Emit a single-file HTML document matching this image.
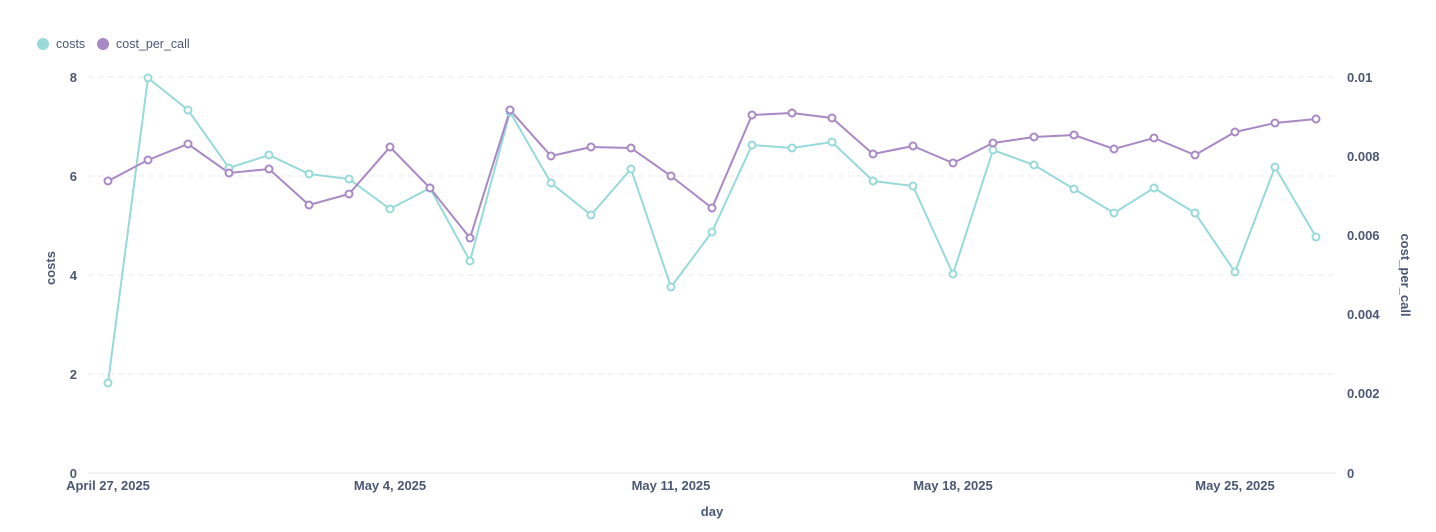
<!DOCTYPE html>
<html><head><meta charset="utf-8"><style>
html,body{margin:0;padding:0;background:#fff;}
svg{display:block;font-family:"Liberation Sans",sans-serif;}
</style></head><body>
<svg width="1436" height="532" viewBox="0 0 1436 532">
<g stroke="#e8e9ec" stroke-dasharray="6,4" stroke-width="1">
<line x1="88" x2="1336" y1="77" y2="77"/>
<line x1="88" x2="1336" y1="176" y2="176"/>
<line x1="88" x2="1336" y1="275" y2="275"/>
<line x1="88" x2="1336" y1="374" y2="374"/>
</g>
<line x1="88" x2="1336" y1="473" y2="473" stroke="#e3e5e8"/>
<g fill="#4c5773" font-size="13" font-weight="bold">
<g text-anchor="end">
<text x="77" y="82">8</text><text x="77" y="181">6</text><text x="77" y="280">4</text><text x="77" y="379">2</text><text x="77" y="478">0</text>
</g>
<g text-anchor="start">
<text x="1347" y="82">0.01</text><text x="1347" y="161">0.008</text><text x="1347" y="240">0.006</text><text x="1347" y="319">0.004</text><text x="1347" y="398">0.002</text><text x="1347" y="478">0</text>
</g>
<g text-anchor="middle">
<text x="108" y="490">April 27, 2025</text><text x="390" y="490">May 4, 2025</text><text x="671" y="490">May 11, 2025</text><text x="953" y="490">May 18, 2025</text><text x="1235" y="490">May 25, 2025</text>
<text x="712" y="516">day</text>
</g>
<text transform="translate(55,268) rotate(-90)" text-anchor="middle">costs</text>
<text transform="translate(1401,275) rotate(90)" text-anchor="middle">cost_per_call</text>
<text x="56" y="48" font-weight="normal" font-size="12.5">costs</text>
<text x="116" y="48" font-weight="normal" font-size="12.5">cost_per_call</text>
</g>
<circle cx="43" cy="44" r="6" fill="#98d9d9"/>
<circle cx="103" cy="44" r="6" fill="#a989c5"/>
<polyline fill="none" stroke="#98d9d9" stroke-width="2" points="108,383 148,78 188,110 229,168 269,155 309,174 349,179 390,209 430,188 470,261 510,112 551,183 591,215 631,169 671,287 712,232 752,145 792,148 832,142 873,181 913,186 953,274 993,150 1034,165 1074,189 1114,213 1154,188 1195,213 1235,272 1275,167 1316,237"/>
<polyline fill="none" stroke="#a989c5" stroke-width="2" points="108,181 148,160 188,144 229,173 269,169 309,205 349,194 390,147 430,188 470,238 510,110 551,156 591,147 631,148 671,176 712,208 752,115 792,113 832,118 873,154 913,146 953,163 993,143 1034,137 1074,135 1114,149 1154,138 1195,155 1235,132 1275,123 1316,119"/>
<g fill="#fff" stroke="#98d9d9" stroke-width="2">
<circle cx="108" cy="383" r="3.5"/><circle cx="148" cy="78" r="3.5"/><circle cx="188" cy="110" r="3.5"/><circle cx="229" cy="168" r="3.5"/><circle cx="269" cy="155" r="3.5"/><circle cx="309" cy="174" r="3.5"/><circle cx="349" cy="179" r="3.5"/><circle cx="390" cy="209" r="3.5"/><circle cx="430" cy="188" r="3.5"/><circle cx="470" cy="261" r="3.5"/><circle cx="510" cy="112" r="3.5"/><circle cx="551" cy="183" r="3.5"/><circle cx="591" cy="215" r="3.5"/><circle cx="631" cy="169" r="3.5"/><circle cx="671" cy="287" r="3.5"/><circle cx="712" cy="232" r="3.5"/><circle cx="752" cy="145" r="3.5"/><circle cx="792" cy="148" r="3.5"/><circle cx="832" cy="142" r="3.5"/><circle cx="873" cy="181" r="3.5"/><circle cx="913" cy="186" r="3.5"/><circle cx="953" cy="274" r="3.5"/><circle cx="993" cy="150" r="3.5"/><circle cx="1034" cy="165" r="3.5"/><circle cx="1074" cy="189" r="3.5"/><circle cx="1114" cy="213" r="3.5"/><circle cx="1154" cy="188" r="3.5"/><circle cx="1195" cy="213" r="3.5"/><circle cx="1235" cy="272" r="3.5"/><circle cx="1275" cy="167" r="3.5"/><circle cx="1316" cy="237" r="3.5"/>
</g>
<g fill="#fff" stroke="#a989c5" stroke-width="2">
<circle cx="108" cy="181" r="3.5"/><circle cx="148" cy="160" r="3.5"/><circle cx="188" cy="144" r="3.5"/><circle cx="229" cy="173" r="3.5"/><circle cx="269" cy="169" r="3.5"/><circle cx="309" cy="205" r="3.5"/><circle cx="349" cy="194" r="3.5"/><circle cx="390" cy="147" r="3.5"/><circle cx="430" cy="188" r="3.5"/><circle cx="470" cy="238" r="3.5"/><circle cx="510" cy="110" r="3.5"/><circle cx="551" cy="156" r="3.5"/><circle cx="591" cy="147" r="3.5"/><circle cx="631" cy="148" r="3.5"/><circle cx="671" cy="176" r="3.5"/><circle cx="712" cy="208" r="3.5"/><circle cx="752" cy="115" r="3.5"/><circle cx="792" cy="113" r="3.5"/><circle cx="832" cy="118" r="3.5"/><circle cx="873" cy="154" r="3.5"/><circle cx="913" cy="146" r="3.5"/><circle cx="953" cy="163" r="3.5"/><circle cx="993" cy="143" r="3.5"/><circle cx="1034" cy="137" r="3.5"/><circle cx="1074" cy="135" r="3.5"/><circle cx="1114" cy="149" r="3.5"/><circle cx="1154" cy="138" r="3.5"/><circle cx="1195" cy="155" r="3.5"/><circle cx="1235" cy="132" r="3.5"/><circle cx="1275" cy="123" r="3.5"/><circle cx="1316" cy="119" r="3.5"/>
</g>
</svg>
</body></html>
